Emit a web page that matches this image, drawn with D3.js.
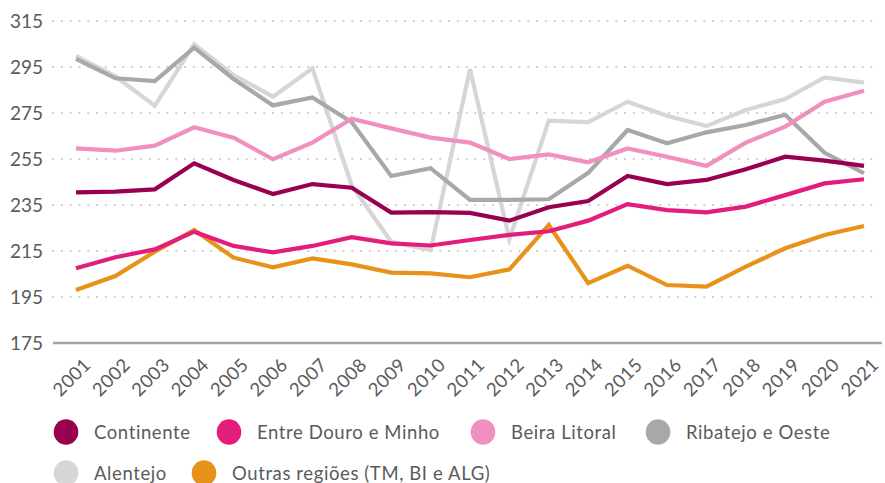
<!DOCTYPE html>
<html>
<head>
<meta charset="utf-8">
<script src="https://cdn.jsdelivr.net/npm/d3@7"></script>
<style>
  body { margin: 0; background: #fff; }
  svg { display: block; font-family: Lato, "Open Sans", sans-serif; }
  .tick-label { fill: #5a5b5d; font-size: 19px; }
  .legend-label { fill: #5a5b5d; font-size: 18.5px; letter-spacing: 0.6px; }
</style>
</head>
<body>
<svg id="chart"></svg>
<script>
// data
const years = ['2001','2002','2003','2004','2005','2006','2007','2008','2009','2010','2011',
               '2012','2013','2014','2015','2016','2017','2018','2019','2020','2021'];
const yTicks = [175, 195, 215, 235, 255, 275, 295, 315];

const continente   = [240.5, 240.8, 241.8, 253.1, 245.9, 239.8, 244.1, 242.5, 231.7, 231.9, 231.6,
                      228.2, 234.0, 236.7, 247.6, 244.1, 245.9, 250.5, 256.0, 254.3, 252.0];
const entreDouro   = [207.5, 212.3, 215.7, 223.4, 217.2, 214.4, 217.2, 221.0, 218.3, 217.4, 219.8,
                      222.0, 223.6, 228.2, 235.4, 232.8, 231.8, 234.3, 239.3, 244.4, 246.2];
const beiraLitoral = [259.6, 258.6, 260.8, 268.8, 264.3, 254.9, 262.1, 272.5, 268.3, 264.3, 262.1,
                      255.0, 257.0, 253.6, 259.6, 256.0, 252.0, 262.1, 269.1, 279.9, 284.7];
const ribatejo     = [298.5, 290.1, 288.9, 303.4, 289.8, 278.3, 281.8, 271.0, 247.6, 251.0, 237.2,
                      237.2, 237.5, 249.0, 267.6, 261.8, 266.6, 269.8, 274.2, 257.7, 248.8];
const alentejo     = [299.8, 291.0, 278.2, 304.9, 291.5, 282.1, 294.4, 243.5, 219.0, 215.4, 294.0,
                      220.1, 271.7, 271.0, 279.9, 273.8, 269.3, 276.3, 281.1, 290.5, 288.2];
const outras       = [198.0, 204.1, 214.7, 224.1, 212.1, 207.9, 211.8, 209.2, 205.6, 205.3, 203.6,
                      207.0, 226.3, 201.0, 208.6, 200.2, 199.5, 208.2, 216.2, 222.0, 225.9];

const seriesNames  = ['Continente', 'Entre Douro e Minho', 'Beira Litoral', 'Ribatejo e Oeste',
                      'Alentejo', 'Outras regiões (TM, BI e ALG)'];
const seriesValues = [continente, entreDouro, beiraLitoral, ribatejo, alentejo, outras];
const seriesColors = ['#990050', '#e41c7b', '#f18fbe', '#a7a9a9', '#d6d6d7', '#e89219'];

const W = 885, H = 483;
const svg = d3.select('#chart').attr('width', W).attr('height', H);

/********** scales **********/
const x = d3.scalePoint().domain(years).range([76, 864]);
const y = d3.scaleLinear().domain([175, 315]).range([343, 21]);

/********** dotted grid + y labels **********/
svg.append('g')
  .selectAll('line')
  .data(yTicks.filter(t => t !== 175))
  .enter().append('line')
  .attr('x1', 53).attr('x2', 878)
  .attr('y1', d => y(d)).attr('y2', d => y(d))
  .style('stroke', '#c9c9c9')
  .style('stroke-width', 2.2)
  .style('stroke-linecap', 'round')
  .style('stroke-dasharray', '0,8.8');

svg.append('line')
  .attr('x1', 53).attr('x2', 882)
  .attr('y1', y(175)).attr('y2', y(175))
  .style('stroke', '#a6a6a6')
  .style('stroke-width', 2.5);

svg.append('g')
  .selectAll('text')
  .data(yTicks)
  .enter().append('text')
  .attr('class', 'tick-label')
  .attr('x', 43)
  .attr('y', d => y(d) + 7)
  .attr('text-anchor', 'end')
  .text(d => d);

/********** x labels, rotated **********/
svg.append('g')
  .selectAll('text')
  .data(years)
  .enter().append('text')
  .attr('class', 'tick-label')
  .attr('text-anchor', 'end')
  .attr('transform', d => `translate(${x(d) + 16}, 366) rotate(-45)`)
  .style('font-size', '18.5px')
  .style('letter-spacing', '0.4px')
  .text(d => d);

/********** lines (last series drawn first) **********/
const line = d3.line()
  .x((v, i) => x(years[i]))
  .y(v => y(v));

const order = [5, 4, 3, 2, 1, 0];
svg.append('g')
  .selectAll('path')
  .data(order)
  .enter().append('path')
  .attr('d', i => line(seriesValues[i]))
  .style('fill', 'none')
  .style('stroke', i => seriesColors[i])
  .style('stroke-width', 4.2)
  .style('stroke-linejoin', 'miter');

/********** legend **********/
const legendPos = [[66, 432], [229, 432], [483, 432], [658, 432], [66, 473], [204, 473]];
const legend = svg.append('g')
  .selectAll('g')
  .data(seriesNames)
  .enter().append('g')
  .attr('transform', (d, i) => `translate(${legendPos[i][0]}, ${legendPos[i][1]})`);

legend.append('ellipse')
  .attr('rx', 12.3).attr('ry', 12.8)
  .style('fill', (d, i) => seriesColors[i]);

legend.append('text')
  .attr('class', 'legend-label')
  .attr('x', 28)
  .attr('y', 6.5)
  .text(d => d);
</script>
</body>
</html>
